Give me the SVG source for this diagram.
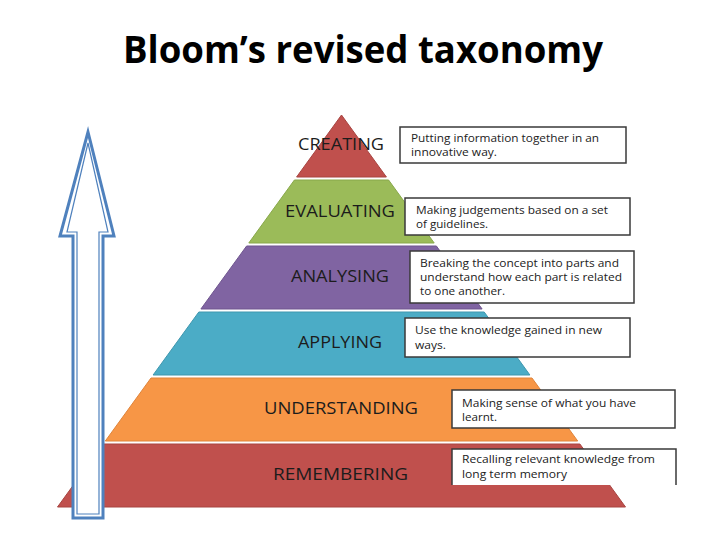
<svg xmlns="http://www.w3.org/2000/svg" width="720" height="540" viewBox="0 0 720 540">
<style>
.lbl{font-family:"Open Sans","Liberation Sans",sans-serif;font-size:16px;fill:#1c1c1c;text-anchor:middle}
.box{fill:#ffffff;stroke:#3a3a3a;stroke-width:1.5}
.bt{font-family:"Open Sans","Liberation Sans",sans-serif;font-size:11px;fill:#222}
.title{font-family:"Open Sans","Liberation Sans",sans-serif;font-size:38px;font-weight:bold;fill:#000;text-anchor:middle}
</style>
<rect width="720" height="540" fill="#ffffff"/>
<text class="title" x="363" y="63" textLength="480" lengthAdjust="spacingAndGlyphs">Bloom’s revised taxonomy</text>

<g id="creating">
<polygon points="341.5,115 386.4,177 296.6,177" fill="#C0504D" stroke="#a84440" stroke-width="1"/>
<text class="lbl" x="341" y="150" textLength="86" lengthAdjust="spacingAndGlyphs">CREATING</text>
</g>
<g id="evaluating">
<polygon points="294.4,180 388.6,180 434.2,243 248.8,243" fill="#9BBB59" stroke="#88a84a" stroke-width="1"/>
<text class="lbl" x="340" y="217" textLength="110" lengthAdjust="spacingAndGlyphs">EVALUATING</text>
</g>
<g id="analysing">
<polygon points="246.6,246 436.4,246 482.1,309 200.9,309" fill="#8064A2" stroke="#6f558f" stroke-width="1"/>
<text class="lbl" x="340" y="282" textLength="98" lengthAdjust="spacingAndGlyphs">ANALYSING</text>
</g>
<g id="applying">
<polygon points="198.8,312 484.2,312 529.9,375 153.1,375" fill="#4BACC6" stroke="#3f97ae" stroke-width="1"/>
<text class="lbl" x="340" y="348" textLength="84" lengthAdjust="spacingAndGlyphs">APPLYING</text>
</g>
<g id="understanding">
<polygon points="151,378 532,378 577.7,441 105.3,441" fill="#F79646" stroke="#e0843a" stroke-width="1"/>
<text class="lbl" x="341" y="414" textLength="154" lengthAdjust="spacingAndGlyphs">UNDERSTANDING</text>
</g>
<g id="remembering">
<polygon points="103.1,444 579.9,444 625.5,507 57.5,507" fill="#C0504D" stroke="#a84440" stroke-width="1"/>
<text class="lbl" x="340.5" y="480" textLength="135" lengthAdjust="spacingAndGlyphs">REMEMBERING</text>
</g>

<g id="box-creating">
<rect class="box" x="400" y="127" width="226" height="36"/>
<text class="bt" x="411" y="142" textLength="188" lengthAdjust="spacingAndGlyphs">Putting information together in an</text>
<text class="bt" x="411" y="156" textLength="86" lengthAdjust="spacingAndGlyphs">innovative way.</text>
</g>
<g id="box-evaluating">
<rect class="box" x="405" y="198" width="225" height="37"/>
<text class="bt" x="416" y="214" textLength="192" lengthAdjust="spacingAndGlyphs">Making judgements based on a set</text>
<text class="bt" x="416" y="228" textLength="72" lengthAdjust="spacingAndGlyphs">of guidelines.</text>
</g>
<g id="box-analysing">
<rect class="box" x="410" y="251" width="224" height="52"/>
<text class="bt" x="420" y="267" textLength="199" lengthAdjust="spacingAndGlyphs">Breaking the concept into parts and</text>
<text class="bt" x="420" y="281" textLength="202" lengthAdjust="spacingAndGlyphs">understand how each part is related</text>
<text class="bt" x="420" y="295" textLength="85" lengthAdjust="spacingAndGlyphs">to one another.</text>
</g>
<g id="box-applying">
<rect class="box" x="405" y="318" width="225" height="39"/>
<text class="bt" x="415" y="334" textLength="187" lengthAdjust="spacingAndGlyphs">Use the knowledge gained in new</text>
<text class="bt" x="415" y="349" textLength="31" lengthAdjust="spacingAndGlyphs">ways.</text>
</g>
<g id="box-understanding">
<rect class="box" x="452" y="390" width="223" height="38"/>
<text class="bt" x="462" y="407" textLength="174" lengthAdjust="spacingAndGlyphs">Making sense of what you have</text>
<text class="bt" x="462" y="421" textLength="35" lengthAdjust="spacingAndGlyphs">learnt.</text>
</g>
<g id="box-remembering">
<rect x="452" y="449" width="224" height="36" fill="#ffffff"/>
<path d="M452,485 V449 H676 V485" fill="none" stroke="#3a3a3a" stroke-width="1.5"/>
<text class="bt" x="462" y="463" textLength="193" lengthAdjust="spacingAndGlyphs">Recalling relevant knowledge from</text>
<text class="bt" x="462" y="478" textLength="105" lengthAdjust="spacingAndGlyphs">long term memory</text>
</g>

<g id="arrow">
<path d="M88,132 L114,236 L103,236 L103,518 L73,518 L73,236 L60,236 Z" fill="#ffffff" stroke="#4F81BD" stroke-width="3" stroke-linejoin="miter"/>
<path d="M88,143 L108,232 L99,232 L99,514 L77,514 L77,232 L67,232 Z" fill="none" stroke="#4F81BD" stroke-width="1.2" stroke-linejoin="miter"/>
</g>
<g id="connectors"/>
</svg>
